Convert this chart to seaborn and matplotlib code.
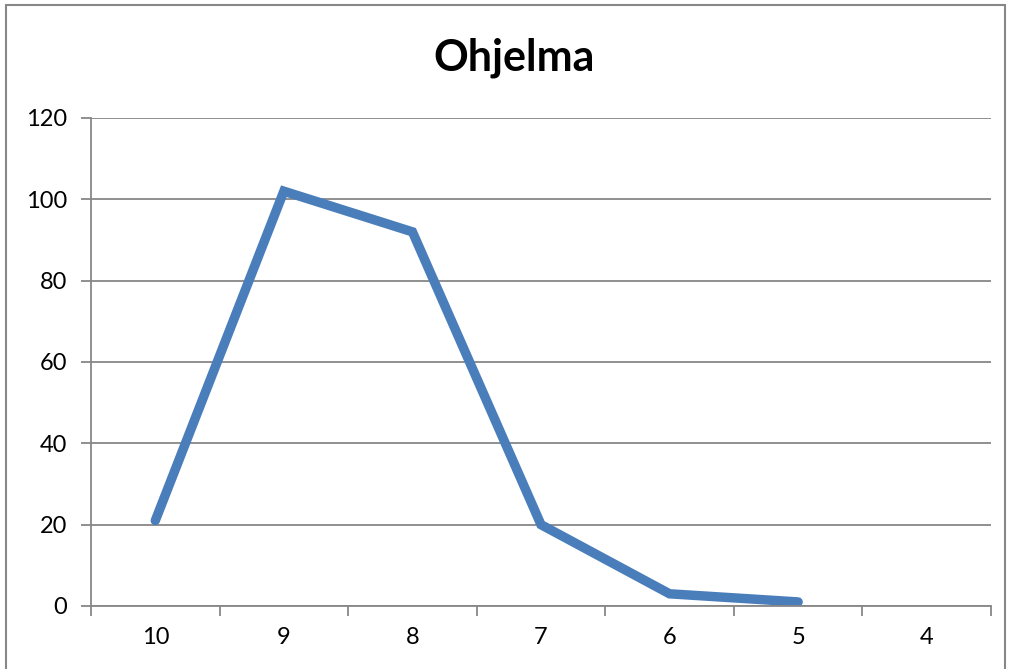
import numpy as np
import pandas as pd
import matplotlib.pyplot as plt
import seaborn as sns
from matplotlib.patches import Rectangle

categories = ["10", "9", "8", "7", "6", "5", "4"]
values = [21, 102, 92, 20, 3, 1, np.nan]

sns.set_style("white")
plt.rcParams['font.family'] = ['Lato', 'DejaVu Sans']

df = pd.DataFrame({"cat": categories, "val": values})
df["pos"] = np.arange(len(categories))

fig = plt.figure(figsize=(10.11, 6.69), dpi=100)
ax = fig.add_axes([91/1011, 1 - 606/669, 900/1011, 488/669])

ax.yaxis.grid(True, color="#878787", linewidth=1.3)
ax.set_axisbelow(True)
sns.lineplot(data=df, x="pos", y="val", ax=ax, color="#4A7EBB", linewidth=6.8,
             sort=False, estimator=None, solid_capstyle="round", solid_joinstyle="miter")

ax.set_ylim(0, 120)
ax.set_yticks(range(0, 121, 20))
ax.set_xlim(-0.5, len(categories) - 0.5)
ax.set_xticks(df["pos"])
ax.set_xticklabels(categories)
ax.set_xticks(np.arange(-0.5, len(categories), 1), minor=True)
ax.tick_params(axis="x", which="major", length=0, pad=15, labelsize=17, labelcolor="black")
ax.tick_params(axis="x", which="minor", length=7, width=1.3, color="#878787", bottom=True)
ax.tick_params(axis="y", length=7, width=1.3, color="#878787", left=True, pad=10,
               labelsize=17, labelcolor="black")
ax.set_xlabel("")
ax.set_ylabel("")

for side in ["top", "right"]:
    ax.spines[side].set_visible(False)
for side in ["left", "bottom"]:
    ax.spines[side].set_color("#878787")
    ax.spines[side].set_linewidth(1.3)

fig.text(514/1011, 1 - 58/669, "Ohjelma", ha="center", va="center",
         fontsize=31, fontweight="bold", color="black")

fig.patches.append(Rectangle((6/1011, -0.05), 999/1011, 1.05 - 5/669,
                             transform=fig.transFigure, fill=False,
                             edgecolor="#878787", linewidth=1.5))

fig.savefig("out.png", dpi=100)
